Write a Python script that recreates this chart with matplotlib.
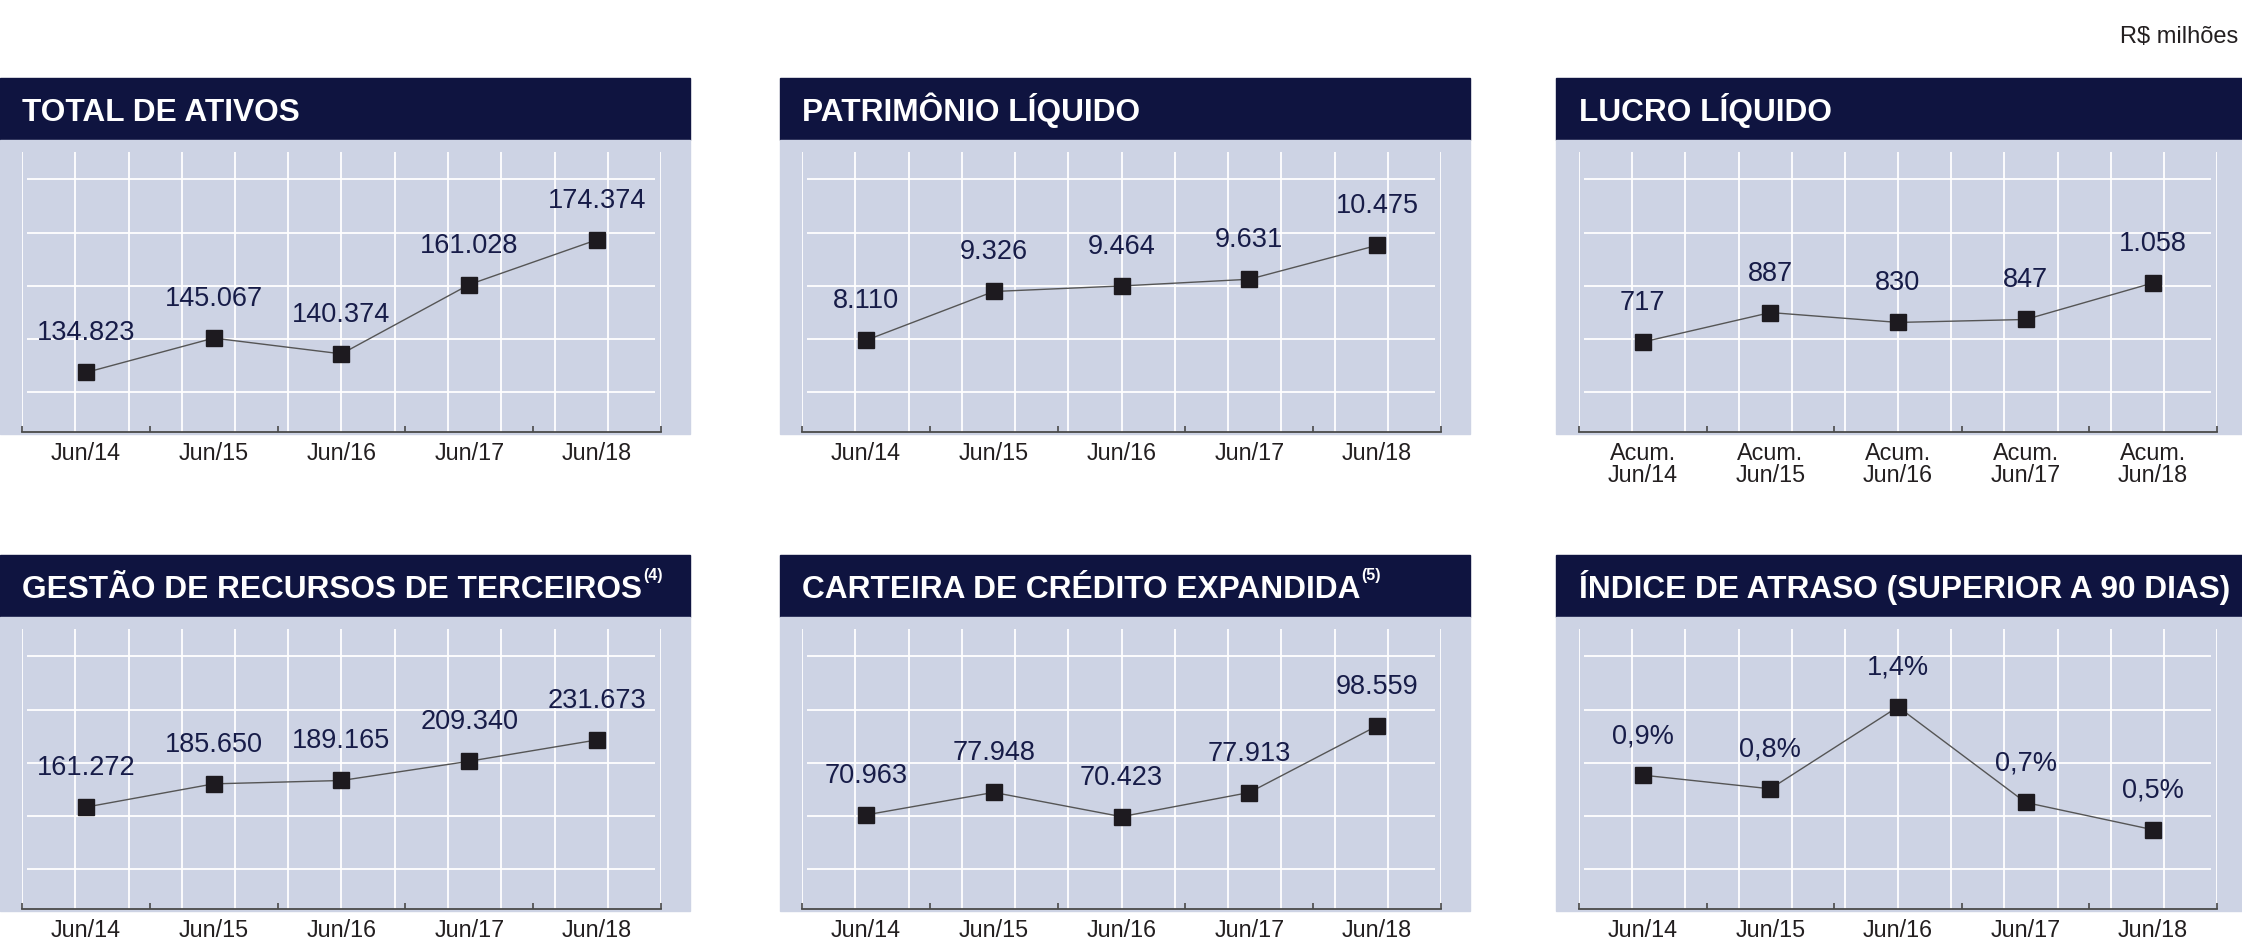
import numpy as np
import matplotlib
matplotlib.use('Agg')
import matplotlib.pyplot as plt
from matplotlib.patches import Rectangle

plt.rcParams['font.family'] = ['Liberation Sans', 'DejaVu Sans']

# --- dados (R$ milhões) ---
periodos = ['Jun/14', 'Jun/15', 'Jun/16', 'Jun/17', 'Jun/18']
periodos_acum = ['Acum.\nJun/14', 'Acum.\nJun/15', 'Acum.\nJun/16', 'Acum.\nJun/17', 'Acum.\nJun/18']

total_ativos = [134823, 145067, 140374, 161028, 174374]
patrimonio_liquido = [8110, 9326, 9464, 9631, 10475]
lucro_liquido = [717, 887, 830, 847, 1058]
gestao_recursos = [161272, 185650, 189165, 209340, 231673]
carteira_credito = [70963, 77948, 70423, 77913, 98559]
indice_atraso = [0.9, 0.8, 1.4, 0.7, 0.5]

# cores
AZUL_ESCURO = '#0f1440'
AZUL_CLARO = '#cdd3e4'
COR_VALOR = '#171c48'
COR_TEXTO = '#231f20'

W, H = 2242, 952
fig = plt.figure(figsize=(W / 100, H / 100), dpi=100)


def fx(px):
    return px / W


def fy(py):
    # py medido de cima para baixo
    return 1 - py / H


def fmt_milhar(v):
    return f"{v:,.0f}".replace(',', '.')


def fmt_pct(v):
    return f"{v:.1f}%".replace('.', ',')


def painel(x0, x1, gx0, gx1, topo, titulo, sup, valores, rotulos, ylim, fmt):
    # topo = y do topo do cabeçalho (px)
    cab_base = topo + 62
    fundo_base = topo + 356
    eixo_y = topo + 354
    grade_topo = topo + 74

    # cabeçalho e fundo (atrás dos eixos)
    fig.patches.append(Rectangle((fx(x0), fy(cab_base)), fx(x1 - x0), fy(topo) - fy(cab_base),
                                 transform=fig.transFigure, color=AZUL_ESCURO, zorder=-10))
    fig.patches.append(Rectangle((fx(x0), fy(fundo_base)), fx(x1 - x0), fy(cab_base) - fy(fundo_base),
                                 transform=fig.transFigure, color=AZUL_CLARO, zorder=-10))
    t = fig.text(fx(gx0), fy(topo + 43), titulo, color='white', fontsize=22.8, fontweight='bold',
                 va='baseline', ha='left')
    if sup:
        fig.canvas.draw()
        bb = t.get_window_extent()
        fig.text((bb.x1 + 1) / W, fy(topo + 25), sup, color='white', fontsize=11.5,
                 fontweight='bold', va='baseline', ha='left')

    ax = fig.add_axes([fx(gx0), fy(eixo_y), fx(gx1 - gx0), fy(grade_topo) - fy(eixo_y)])
    ax.set_facecolor('none')
    for lado in ['top', 'left', 'right']:
        ax.spines[lado].set_visible(False)
    ax.spines['bottom'].set_color('#4a4a4a')
    ax.spines['bottom'].set_linewidth(1.3)

    # grade branca
    ax.vlines(np.linspace(0, 5, 13), 0, 1, transform=ax.get_xaxis_transform(),
              color='white', linewidth=1.3, zorder=1)
    ax.hlines(0.142 + 0.19 * np.arange(5), 0.008, 0.99, transform=ax.transAxes,
              color='white', linewidth=1.3, zorder=1)

    x = np.arange(5) + 0.5
    ax.plot(x, valores, color='#555555', linewidth=1.0, zorder=2)
    ax.plot(x, valores, linestyle='none', marker='s', markersize=12.2,
            color='#1d1a1f', zorder=3)
    for xi, v in zip(x, valores):
        ax.annotate(fmt(v), (xi, v), xytext=(0, 39), textcoords='offset pixels',
                    ha='center', va='center', fontsize=19.5, color=COR_VALOR, zorder=4)

    ax.set_xlim(0, 5)
    ax.set_ylim(*ylim)
    ax.set_yticks([])
    ax.set_xticks(np.arange(6))
    ax.set_xticklabels([])
    ax.tick_params(axis='x', which='major', direction='in', length=4.3, width=1.2, color='#4a4a4a')
    ax.set_xticks(x, minor=True)
    ax.set_xticklabels(rotulos, minor=True, fontsize=16.8, color=COR_TEXTO, linespacing=0.95)
    ax.tick_params(axis='x', which='minor', length=0, pad=7)
    return ax


colunas = [(0, 690, 22, 661), (780, 1470, 802, 1441), (1556, 2242, 1579, 2217)]

painel(*colunas[0], 78, 'TOTAL DE ATIVOS', None, total_ativos, periodos,
       (117100, 200500), fmt_milhar)
painel(*colunas[1], 78, 'PATRIMÔNIO LÍQUIDO', None, patrimonio_liquido, periodos,
       (5827, 12800), fmt_milhar)
painel(*colunas[2], 78, 'LUCRO LÍQUIDO', None, lucro_liquido, periodos_acum,
       (198, 1813), fmt_milhar)
painel(*colunas[0], 555, 'GESTÃO DE RECURSOS DE TERCEIROS', '(4)', gestao_recursos, periodos,
       (54600, 347800), fmt_milhar)
painel(*colunas[1], 555, 'CARTEIRA DE CRÉDITO EXPANDIDA', '(5)', carteira_credito, periodos,
       (41800, 128600), fmt_milhar)
painel(*colunas[2], 555, 'ÍNDICE DE ATRASO (SUPERIOR A 90 DIAS)', None, indice_atraso, periodos,
       (-0.08, 1.97), fmt_pct)

fig.text(fx(2238), fy(37), 'R$ milhões', ha='right', va='center', fontsize=17, color=COR_TEXTO)

fig.savefig('out.png', dpi=100)
